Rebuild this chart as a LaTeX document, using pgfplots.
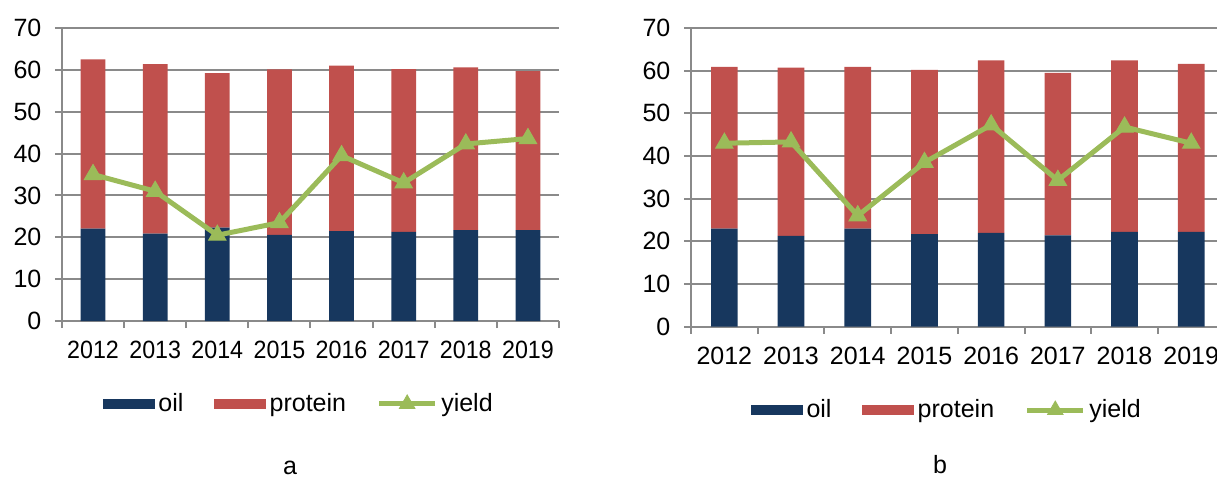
\documentclass[border=0pt]{standalone}
\usepackage{fontspec}
\setmainfont{Liberation Sans}
\usepackage{pgfplots}
\pgfplotsset{compat=1.18}
\definecolor{oilc}{HTML}{17375E}
\definecolor{protc}{HTML}{C0504D}
\definecolor{yieldc}{HTML}{9BBB59}
\definecolor{gridc}{HTML}{8A8A8A}

\pgfplotstableread{
x oil protein yield
0 22.1 40.4 35.0
1 20.9 40.5 31.0
2 22.3 36.9 20.5
3 20.6 39.5 23.5
4 21.5 39.5 39.5
5 21.3 38.9 33.0
6 21.7 38.9 42.3
7 21.7 38.0 43.6
}\dataA

\pgfplotstableread{
x oil protein yield
0 23.0 37.9 43.0
1 21.3 39.4 43.3
2 23.0 37.9 26.0
3 21.7 38.5 38.5
4 22.0 40.4 47.3
5 21.4 38.1 34.3
6 22.2 40.2 46.8
7 22.2 39.4 43.0
}\dataB

\pgfplotsset{
  base/.style={
    scale only axis, xmin=-0.5, xmax=7.5, ymin=0, ymax=70,
  },
  bars/.style={
    base, ybar stacked, bar width=0.4,
    axis x line*=bottom, axis y line*=left,
    axis line style={gridc, line width=1pt, -},
    ymajorgrids, grid style={gridc, line width=1pt},
    ytick={0,10,...,70},
    xtick={0,...,7},
    xticklabels={2012,2013,2014,2015,2016,2017,2018,2019},
    minor xtick={-0.5,0.5,...,7.5},
    major x tick style={draw=none},
    minor x tick style={gridc, line width=1pt},
    y tick style={gridc, line width=1pt},
    tick align=outside,
    major tick length=3.5pt, minor tick length=3.5pt,
    tick label style={font=\fontsize{12.5}{14}\selectfont, text=black},
    /pgf/number format/assume math mode=true,
    yticklabel style={xshift=-3.3pt},
    xticklabel style={yshift=-3pt},
    legend columns=-1,
    legend style={draw=none, fill=none, font=\fontsize{12.5}{14}\selectfont,
      anchor=center, inner sep=0pt, nodes={inner xsep=1.8pt},
      /tikz/every even column/.append style={column sep=13.5pt}},
  },
  oilleg/.style={legend image code/.code={\fill[oilc] (0pt,-2.6pt) rectangle (26pt,2.6pt);}},
  protleg/.style={legend image code/.code={\fill[protc] (0pt,-2.6pt) rectangle (26pt,2.6pt);}},
  yieldline/.style={yieldc, line width=2.5pt, mark=triangle*, mark size=5pt,
    mark options={fill=yieldc, draw=yieldc, line width=0.5pt}},
  yieldleg/.style={legend image code/.code={%
    \draw[yieldc, line width=2.5pt] (0pt,0pt) -- (28pt,0pt);
    \fill[yieldc] (14pt,0pt) +(90:4.5pt) -- +(210:4.5pt) -- +(330:4.5pt) -- cycle;}},
}

\begin{document}
\begin{tikzpicture}
% ---------- panel a ----------
\begin{axis}[bars, at={(31pt,-160.5pt)}, anchor=south west,
  width=248.5pt, height=146.5pt,
  xticklabel style={xscale=0.93},
  legend style={at={(0.478,-0.283)}}]
\addplot[fill=oilc, draw=none, oilleg] table[x=x, y=oil] {\dataA};
\addplot[fill=protc, draw=none, protleg] table[x=x, y=protein] {\dataA};
\addlegendimage{yieldleg}
\legend{oil, protein, yield}
\end{axis}
\begin{axis}[base, hide axis, at={(31pt,-160.5pt)}, anchor=south west,
  width=248.5pt, height=146.5pt, clip=false]
\addplot[yieldline] table[x=x, y=yield] {\dataA};
\node[font=\fontsize{12.5}{14}\selectfont, inner sep=0pt] at (axis description cs:0.459,-0.502) {a};
\end{axis}
% ---------- panel b ----------
\begin{axis}[bars, at={(345.5pt,-163.35pt)}, anchor=south west,
  width=266.8pt, height=149.35pt,
  legend style={at={(0.481,-0.279)}}]
\addplot[fill=oilc, draw=none, oilleg] table[x=x, y=oil] {\dataB};
\addplot[fill=protc, draw=none, protleg] table[x=x, y=protein] {\dataB};
\addlegendimage{yieldleg}
\legend{oil, protein, yield}
\end{axis}
\begin{axis}[base, hide axis, at={(345.5pt,-163.35pt)}, anchor=south west,
  width=266.8pt, height=149.35pt, clip=false]
\addplot[yieldline] table[x=x, y=yield] {\dataB};
\node[font=\fontsize{12.5}{14}\selectfont, inner sep=0pt] at (axis description cs:0.467,-0.462) {b};
\end{axis}
\pgfresetboundingbox
\useasboundingbox (0pt,0pt) rectangle (608.5pt,-238.5pt);
\end{tikzpicture}
\end{document}
